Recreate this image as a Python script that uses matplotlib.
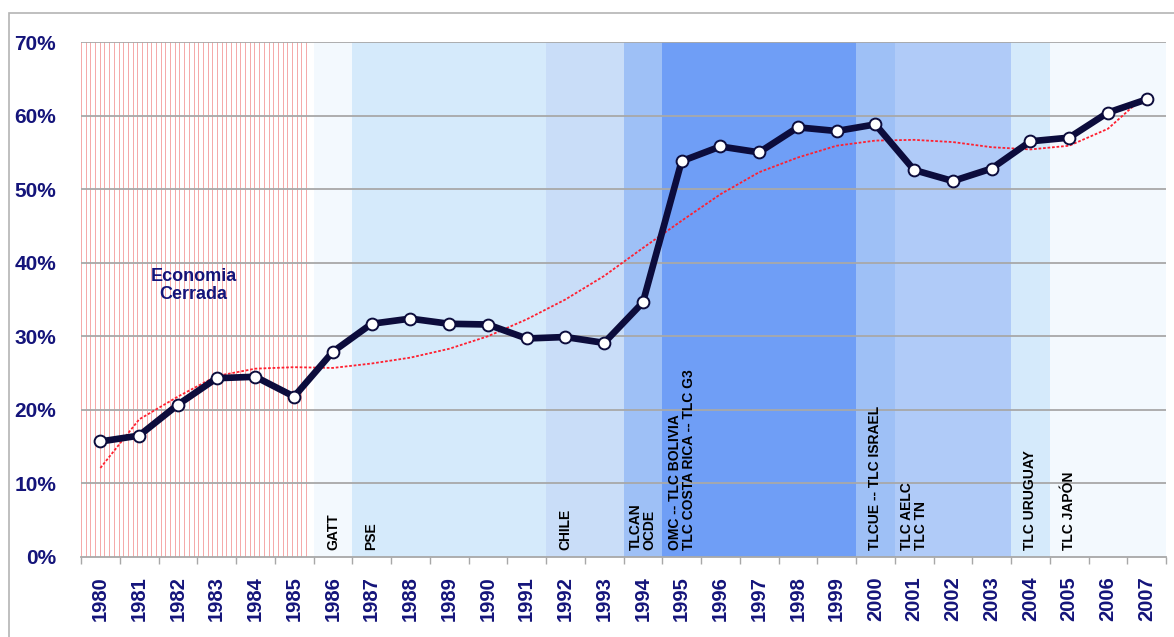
import matplotlib
matplotlib.use("Agg")
import matplotlib.pyplot as plt
from matplotlib import font_manager
from matplotlib.patches import Rectangle

# ---------------- data ----------------
years = [str(y) for y in range(1980, 2008)]
share = [15.7, 16.5, 20.7, 24.3, 24.5, 21.8, 27.9, 31.7, 32.4, 31.7, 31.6, 29.7,
         29.9, 29.1, 34.6, 53.8, 55.8, 55.0, 58.4, 57.9, 58.8, 52.6, 51.1, 52.8,
         56.5, 57.0, 60.4, 62.2]
trend = [12.1, 18.7, 21.8, 24.6, 25.6, 25.8, 25.7, 26.3, 27.1, 28.3, 30.0, 32.3,
         35.0, 38.2, 42.0, 45.7, 49.3, 52.3, 54.3, 55.9, 56.6, 56.7, 56.4, 55.7,
         55.4, 55.9, 58.2, 62.9]

# background periods: (first year index, last year index, colour)
band_start = [6, 7, 12, 14, 15, 20, 21, 24, 25]
band_end = [6, 11, 13, 14, 19, 20, 23, 24, 27]
band_color = ['#f3f9fe', '#d5eafb', '#c9ddf8', '#9ec0f6', '#6f9ef6',
              '#9ec0f6', '#b0cbf8', '#d5eafb', '#f3f9fe']

event_pos = [6, 7, 12, 14, 15, 20, 21, 24, 25]
event_text = ["GATT", "PSE", "CHILE", "TLCAN\nOCDE",
              "OMC -- TLC BOLIVIA\nTLC COSTA RICA -- TLC G3",
              "TLCUE -- TLC ISRAEL", "TLC AELC\nTLC TN",
              "TLC URUGUAY", "TLC JAPÓN"]

closed_years = 6
yticks = [0, 10, 20, 30, 40, 50, 60, 70]
ytick_labels = [f"{v}%" for v in yticks]

# ---------------- fonts ----------------
names = {f.name for f in font_manager.fontManager.ttflist}
narrow = 'Liberation Sans Narrow' if 'Liberation Sans Narrow' in names else None
base = 'Liberation Sans' if 'Liberation Sans' in names else 'DejaVu Sans'
plt.rcParams['font.family'] = [base, 'DejaVu Sans']

navy = '#14147a'

fig = plt.figure(figsize=(11.74, 6.37), dpi=100)
fig.patch.set_facecolor('white')
ax = fig.add_axes([81 / 1174, 1 - 557 / 637, (1166 - 81) / 1174, (557 - 42) / 637])
ax.set_facecolor('white')

n = len(years)
x = list(range(n))
ax.set_xlim(-0.5, n - 0.5)
ax.set_ylim(0, 70)

# bands
for s, e, c in zip(band_start, band_end, band_color):
    ax.axvspan(s - 0.5, e + 0.5, color=c, lw=0, zorder=0)

# closed-economy hatch (red vertical lines)
k = 0
while True:
    xv = -0.5 + k * 0.121
    if xv > closed_years - 0.58:
        break
    ax.plot([xv, xv], [0, 70], color='#f49a9a', lw=0.6, zorder=1)
    k += 1

# grid
for v in yticks[1:]:
    ax.axhline(v, color='#a8a8a8', lw=1.3, zorder=2)

# trend
ax.plot(x, trend, color='#ff2030', lw=1.3, linestyle=(0, (1.5, 1.0)), zorder=3)
# main series
ax.plot(x, share, color='#0c0c3c', lw=4.8, zorder=4, marker='o',
        markersize=8.5, markerfacecolor='white', markeredgecolor='#0c0c3c',
        markeredgewidth=1.4)

# event labels
ev_font = dict(fontweight='bold', color='black')
if narrow:
    ev_font.update(family=[narrow, base], fontsize=11)
else:
    ev_font.update(family=[base], fontsize=10)
for p, t in zip(event_pos, event_text):
    ax.text(p, 0.9, t, rotation=90, ha='center', va='bottom',
            multialignment='left', linespacing=1.0, zorder=5, **ev_font)

ax.text(2.4, 36.9, "Economia\nCerrada", ha='center', va='center', color=navy,
        fontsize=13, fontweight='bold', linespacing=1.15, zorder=5)

# axes styling
for s in ['top', 'right', 'left']:
    ax.spines[s].set_visible(False)
ax.spines['bottom'].set_color('#a8a8a8')
ax.spines['bottom'].set_linewidth(1.3)
ax.spines['bottom'].set_zorder(6)

ax.set_yticks(yticks)
ax.set_yticklabels(ytick_labels, fontsize=15, fontweight='bold', color=navy)
ax.tick_params(axis='y', length=0, pad=18)

ax.set_xticks(x)
ax.set_xticklabels(years, rotation=90, fontsize=14.5, fontweight='bold', color=navy)
ax.set_xticks([i - 0.5 for i in range(n + 1)], minor=True)
ax.tick_params(axis='x', which='major', length=0, pad=14)
ax.tick_params(axis='x', which='minor', length=5, color='#a8a8a8', width=1)

# outer chart frame
fig.patches.append(Rectangle((9 / 1174, -0.1), 1.2, 1.1 - 13 / 637,
                             transform=fig.transFigure, fill=False,
                             edgecolor='#b4b4b4', lw=1.2))

fig.savefig('out.png', dpi=100)
